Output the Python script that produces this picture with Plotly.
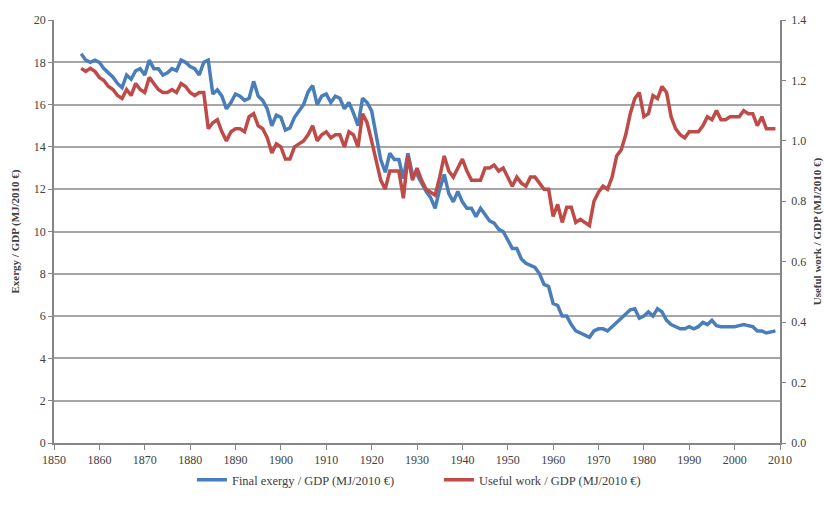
import plotly.graph_objects as go

years = list(range(1856, 2010))

# Final exergy / GDP (MJ/2010 €), left axis
final_exergy = [
    18.4, 18.1, 18.0, 18.1, 18.0, 17.7, 17.5, 17.3, 17.0, 16.8,   # 1856-1865
    17.4, 17.2, 17.6, 17.7, 17.4, 18.1, 17.7, 17.7, 17.4, 17.5,   # 1866-1875
    17.7, 17.6, 18.1, 18.0, 17.8, 17.7, 17.4, 18.0, 18.1, 16.5,   # 1876-1885
    16.7, 16.4, 15.8, 16.1, 16.5, 16.4, 16.2, 16.3, 17.1, 16.4,   # 1886-1895
    16.2, 15.8, 15.0, 15.5, 15.4, 14.8, 14.9, 15.4, 15.7, 16.0,   # 1896-1905
    16.6, 16.9, 16.0, 16.4, 16.5, 16.1, 16.4, 16.3, 15.8, 16.1,   # 1906-1915
    15.6, 15.0, 16.3, 16.1, 15.7, 14.6, 13.4, 12.8, 13.7, 13.4,   # 1916-1925
    13.4, 12.5, 13.7, 12.7, 12.7, 12.3, 11.9, 11.6, 11.1, 12.0,   # 1926-1935
    12.7, 11.8, 11.4, 11.9, 11.4, 11.1, 11.1, 10.7, 11.1, 10.8,   # 1936-1945
    10.5, 10.4, 10.1, 10.0, 9.6, 9.2, 9.2, 8.7, 8.5, 8.4,         # 1946-1955
    8.3, 8.0, 7.5, 7.4, 6.6, 6.5, 6.0, 6.0, 5.6, 5.3,             # 1956-1965
    5.2, 5.1, 5.0, 5.3, 5.4, 5.4, 5.3, 5.5, 5.7, 5.9,             # 1966-1975
    6.1, 6.3, 6.35, 5.9, 6.0, 6.2, 6.0, 6.35, 6.2, 5.8,           # 1976-1985
    5.6, 5.5, 5.4, 5.4, 5.5, 5.4, 5.5, 5.7, 5.6, 5.8,             # 1986-1995
    5.55, 5.5, 5.5, 5.5, 5.5, 5.55, 5.6, 5.55, 5.5, 5.3,          # 1996-2005
    5.3, 5.2, 5.25, 5.3,                                          # 2006-2009
]

# Useful work / GDP (MJ/2010 €), right axis
useful_work = [
    1.24, 1.23, 1.24, 1.23, 1.21, 1.20, 1.18, 1.17, 1.15, 1.14,   # 1856-1865
    1.17, 1.15, 1.19, 1.17, 1.16, 1.21, 1.19, 1.17, 1.16, 1.16,   # 1866-1875
    1.17, 1.16, 1.19, 1.18, 1.16, 1.15, 1.16, 1.16, 1.04, 1.06,   # 1876-1885
    1.07, 1.03, 1.00, 1.03, 1.04, 1.04, 1.03, 1.08, 1.09, 1.05,   # 1886-1895
    1.04, 1.01, 0.96, 0.99, 0.98, 0.94, 0.94, 0.98, 0.99, 1.00,   # 1896-1905
    1.02, 1.05, 1.00, 1.02, 1.03, 1.01, 1.02, 1.02, 0.98, 1.03,   # 1906-1915
    1.02, 0.98, 1.09, 1.06, 1.00, 0.93, 0.87, 0.84, 0.90, 0.90,   # 1916-1925
    0.90, 0.81, 0.95, 0.87, 0.91, 0.87, 0.84, 0.83, 0.82, 0.88,   # 1926-1935
    0.95, 0.90, 0.88, 0.91, 0.94, 0.90, 0.87, 0.87, 0.87, 0.91,   # 1936-1945
    0.91, 0.92, 0.90, 0.91, 0.88, 0.85, 0.88, 0.86, 0.85, 0.88,   # 1946-1955
    0.88, 0.86, 0.84, 0.84, 0.75, 0.79, 0.73, 0.78, 0.78, 0.73,   # 1956-1965
    0.74, 0.73, 0.72, 0.80, 0.83, 0.85, 0.84, 0.88, 0.95, 0.97,   # 1966-1975
    1.02, 1.09, 1.14, 1.16, 1.08, 1.09, 1.15, 1.14, 1.18, 1.16,   # 1976-1985
    1.08, 1.04, 1.02, 1.01, 1.03, 1.03, 1.03, 1.05, 1.08, 1.07,   # 1986-1995
    1.10, 1.07, 1.07, 1.08, 1.08, 1.08, 1.10, 1.09, 1.09, 1.05,   # 1996-2005
    1.08, 1.04, 1.04, 1.04,                                       # 2006-2009
]

x_ticks = list(range(1850, 2011, 10))

BLUE = "#4A7EBB"
RED = "#BE4B48"
GRID = "#A6A6A6"
AXIS = "#868686"
TEXT = "#404040"
SERIF = "Liberation Serif, Times New Roman, serif"

fig = go.Figure()
fig.add_trace(go.Scatter(
    x=years, y=final_exergy, mode="lines",
    name="Final exergy / GDP (MJ/2010 €)",
    line=dict(color=BLUE, width=3.5),
))
fig.add_trace(go.Scatter(
    x=years, y=useful_work, mode="lines", yaxis="y2",
    name="Useful work / GDP (MJ/2010 €)",
    line=dict(color=RED, width=3.5),
))

fig.update_layout(
    width=824, height=507,
    margin=dict(l=54, r=44, t=20, b=55),
    paper_bgcolor="white", plot_bgcolor="white",
    font=dict(family=SERIF, size=12, color=TEXT),
    showlegend=True,
    legend=dict(
        orientation="h", x=0.19, xanchor="left", y=-0.088, yanchor="middle",
        font=dict(family=SERIF, size=12.5, color=TEXT),
        entrywidth=202, entrywidthmode="pixels",
    ),
    xaxis=dict(
        range=[1850, 2010], tickvals=x_ticks, ticks="outside", ticklen=5,
        tickcolor=AXIS, showline=True, linecolor=AXIS, linewidth=1.5,
        showgrid=False, zeroline=False, automargin=False,
        tickfont=dict(size=12, color=TEXT),
    ),
    yaxis=dict(
        range=[0, 20], dtick=2, ticks="outside", ticklen=4, tickcolor=AXIS,
        showline=True, linecolor=AXIS, linewidth=1.5,
        showgrid=True, gridcolor=GRID, gridwidth=1.5, zeroline=False,
        automargin=False, tickfont=dict(size=12, color=TEXT),
        title=dict(text="<b>Exergy / GDP (MJ/2010 €)</b>",
                   font=dict(size=11, color=TEXT), standoff=12),
    ),
    yaxis2=dict(
        range=[0, 1.4], dtick=0.2, tickformat=".1f", overlaying="y",
        side="right", ticks="outside", ticklen=4, tickcolor=AXIS,
        showline=True, linecolor=AXIS, linewidth=1.5,
        showgrid=False, zeroline=False, automargin=False,
        ticklabelstandoff=3, tickfont=dict(size=12, color=TEXT),
        title=dict(text="<b>Useful work / GDP (MJ/2010 €)</b>",
                   font=dict(size=11, color=TEXT), standoff=10),
    ),
)

fig.write_html("out.html")
